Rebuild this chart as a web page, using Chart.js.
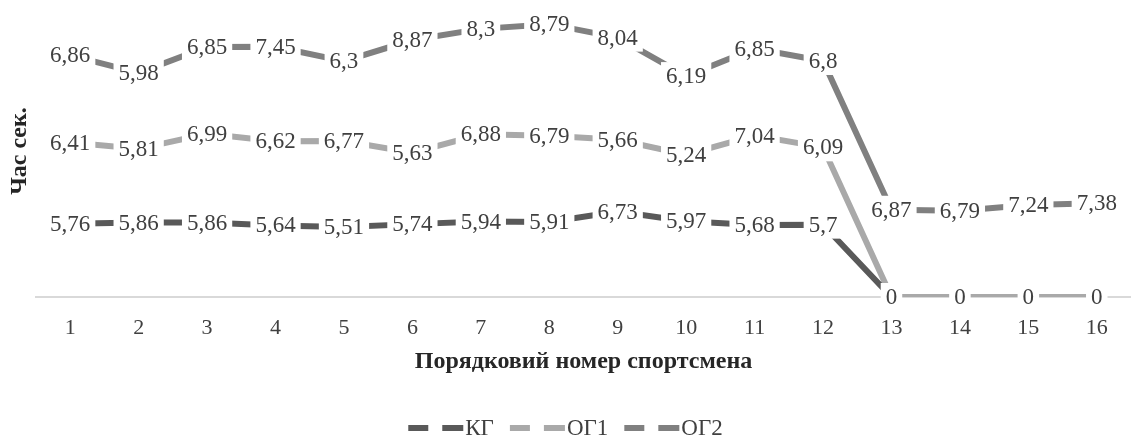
<!DOCTYPE html>
<html>
<head>
<meta charset="utf-8">
<script src="https://cdn.jsdelivr.net/npm/chart.js@4"></script>
<style>
  html, body { margin: 0; padding: 0; background: #fff; }
  #wrap { width: 1131px; height: 437px; position: relative; }
</style>
</head>
<body>
<div id="wrap"><canvas id="timeChart"></canvas></div>
<script>
// Athlete numbers and times (sec.) per group
const athletes = ['1', '2', '3', '4', '5', '6', '7', '8', '9', '10', '11', '12', '13', '14', '15', '16'];
const kgTimes  = [5.76, 5.86, 5.86, 5.64, 5.51, 5.74, 5.94, 5.91, 6.73, 5.97, 5.68, 5.7, 0, 0, 0, 0];
const og1Times = [6.41, 5.81, 6.99, 6.62, 6.77, 5.63, 6.88, 6.79, 5.66, 5.24, 7.04, 6.09, 0, 0, 0, 0];
const og2Times = [6.86, 5.98, 6.85, 7.45, 6.3, 8.87, 8.3, 8.79, 8.04, 6.19, 6.85, 6.8, 6.87, 6.79, 7.24, 7.38];
const seriesNames = ['КГ', 'ОГ1', 'ОГ2'];
const seriesColors = ['#595959', '#a9a9a9', '#808080'];

const SERIF = "'Liberation Serif', 'Times New Roman', serif";
const textColor = '#404040';

// value labels with white box, like the Excel data labels
const valueLabels = {
    id: 'valueLabels',
    afterDatasetsDraw(chart) {
        const ctx = chart.ctx;
        ctx.save();
        ctx.font = '23px ' + SERIF;
        ctx.textAlign = 'center';
        ctx.textBaseline = 'middle';
        chart.data.datasets.forEach((ds, di) => {
            const meta = chart.getDatasetMeta(di);
            meta.data.forEach((pt, i) => {
                const v = ds.data[i];
                // ОГ1 zeros sit exactly under the КГ zeros
                if (di === 1 && v === 0) return;
                const txt = String(v).replace('.', ',');
                const w = ctx.measureText(txt).width;
                ctx.fillStyle = '#fff';
                ctx.fillRect(pt.x - w / 2 - 5, pt.y - 14, w + 10, 28);
                ctx.fillStyle = textColor;
                ctx.fillText(txt, pt.x, pt.y + 1);
            });
        });
        ctx.restore();
    }
};

// legend with dashed line symbols at the bottom
const dashLegend = {
    id: 'dashLegend',
    afterDraw(chart) {
        const ctx = chart.ctx;
        ctx.save();
        ctx.font = '23px ' + SERIF;
        ctx.textBaseline = 'middle';
        const y = 428;
        const gap = 16;
        const symW = 55;
        const widths = seriesNames.map(n => symW + 2 + ctx.measureText(n).width);
        const total = widths.reduce((a, b) => a + b, 0) + gap * (seriesNames.length - 1);
        let x = chart.width / 2 - total / 2;
        seriesNames.forEach((name, i) => {
            ctx.strokeStyle = seriesColors[i];
            ctx.lineWidth = 6;
            ctx.beginPath();
            ctx.moveTo(x, y); ctx.lineTo(x + 20, y);
            ctx.moveTo(x + 34, y); ctx.lineTo(x + symW, y);
            ctx.stroke();
            ctx.fillStyle = textColor;
            ctx.fillText(name, x + symW + 2, y + 1);
            x += widths[i] + gap;
        });
        ctx.restore();
    }
};

const ctx = document.getElementById('timeChart').getContext('2d');
new Chart(ctx, {
    type: 'line',
    data: {
        labels: athletes,
        datasets: [
            {
                label: seriesNames[0],
                data: kgTimes,
                borderColor: seriesColors[0],
                // ОГ1 lies on top of КГ where both are zero
                segment: {
                    borderColor: c => (c.p0DataIndex >= 12 ? seriesColors[1] : undefined)
                }
            },
            { label: seriesNames[1], data: og1Times, borderColor: seriesColors[1] },
            { label: seriesNames[2], data: og2Times, borderColor: seriesColors[2] }
        ].map(d => Object.assign({
            borderWidth: 6,
            pointRadius: 0,
            tension: 0,
            fill: false,
            borderCapStyle: 'butt'
        }, d))
    },
    options: {
        responsive: true,
        maintainAspectRatio: false,
        animation: false,
        layout: { padding: { top: 5, bottom: 60, left: 0, right: 0 } },
        plugins: {
            legend: { display: false },
            tooltip: { enabled: false }
        },
        scales: {
            x: {
                offset: true,
                grid: { display: false, drawTicks: false, offset: true },
                border: { display: true, color: '#d9d9d9', width: 2 },
                ticks: { color: textColor, font: { family: SERIF, size: 22 }, padding: 18 },
                title: {
                    display: true,
                    text: 'Порядковий номер спортсмена',
                    color: '#262626',
                    font: { family: SERIF, size: 24, weight: 'bold' },
                    padding: { top: 0, bottom: 1 }
                },
                afterFit(scale) { scale.height = 80; }
            },
            y: {
                stacked: true,
                min: 0,
                max: 23,
                grid: { display: false, drawTicks: false },
                border: { display: false },
                ticks: { display: false },
                title: {
                    display: true,
                    text: 'Час сек.',
                    color: '#262626',
                    font: { family: SERIF, size: 24, weight: 'bold' },
                    padding: { top: 5, bottom: 0 }
                },
                afterFit(scale) { scale.width = 36; }
            }
        }
    },
    plugins: [valueLabels, dashLegend]
});
</script>
</body>
</html>
